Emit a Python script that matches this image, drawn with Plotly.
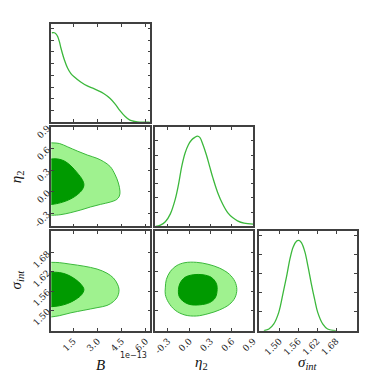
import plotly.graph_objects as go

# 1D marginals (normalised to peak 1)
b_grid = [0.15, 0.31, 0.42, 0.52, 0.62, 0.72, 0.93, 1.13, 1.34, 1.54, 1.95, 2.36,
          2.77, 3.07, 3.38, 3.79, 4.10, 4.40, 4.71, 5.02, 5.32, 5.63, 6.04, 6.25]
b_pdf = [1.0, 1.0, 0.985, 0.956, 0.90, 0.827, 0.698, 0.606, 0.544, 0.507, 0.449, 0.405,
         0.375, 0.35, 0.32, 0.265, 0.202, 0.129, 0.066, 0.022, 0.008, 0.0, 0.0, 0.0]

eta_grid = [-0.475, -0.406, -0.337, -0.268, -0.198, -0.152, -0.106, -0.06, -0.014, 0.032,
            0.078, 0.115, 0.148, 0.194, 0.24, 0.286, 0.332, 0.40, 0.471, 0.54, 0.609,
            0.678, 0.771, 0.9]
eta_pdf = [0.0, 0.014, 0.051, 0.136, 0.30, 0.463, 0.665, 0.81, 0.902, 0.957, 0.986, 1.0,
           0.986, 0.902, 0.793, 0.665, 0.537, 0.373, 0.245, 0.153, 0.098, 0.062, 0.036, 0.025]

sig_grid = [1.451, 1.467, 1.482, 1.498, 1.513, 1.524, 1.534, 1.544, 1.555, 1.562, 1.570,
            1.581, 1.591, 1.601, 1.612, 1.622, 1.638, 1.653, 1.679]
sig_pdf = [0.0, 0.019, 0.072, 0.20, 0.436, 0.618, 0.80, 0.927, 0.992, 1.0, 0.974, 0.873,
           0.709, 0.527, 0.346, 0.20, 0.072, 0.019, 0.0]

# 2D contours (95% outer, 68% inner)
b_eta_95_b = [0.11, 0.62, 1.13, 1.75, 2.36, 2.97, 3.38, 3.79, 4.10, 4.30, 4.40, 4.36, 4.20,
              3.79, 3.18, 2.56, 1.95, 1.34, 0.72, 0.21, 0.11]
b_eta_95_e = [0.681, 0.672, 0.626, 0.566, 0.512, 0.466, 0.42, 0.352, 0.237, 0.123, 0.009,
              -0.06, -0.105, -0.142, -0.174, -0.21, -0.252, -0.288, -0.316, -0.325, -0.325]
b_eta_68_b = [0.11, 0.52, 0.93, 1.34, 1.75, 2.05, 2.15, 2.05, 1.75, 1.34, 0.83, 0.31, 0.11]
b_eta_68_e = [0.457, 0.457, 0.429, 0.361, 0.26, 0.169, 0.10, 0.032, -0.037, -0.096,
              -0.142, -0.169, -0.174]

b_sig_95_b = [0.11, 0.62, 1.34, 2.15, 2.97, 3.59, 3.99, 4.24, 4.34, 4.26, 3.99, 3.59, 2.97,
              2.15, 1.34, 0.62, 0.11]
b_sig_95_s = [1.650, 1.649, 1.644, 1.638, 1.629, 1.616, 1.601, 1.582, 1.565, 1.544, 1.527,
              1.515, 1.508, 1.500, 1.492, 1.483, 1.479]
b_sig_68_b = [0.11, 0.62, 1.13, 1.64, 1.99, 2.15, 2.01, 1.64, 1.13, 0.62, 0.11]
b_sig_68_s = [1.619, 1.618, 1.611, 1.596, 1.580, 1.565, 1.549, 1.534, 1.521, 1.514, 1.511]

eta_sig_95_e = [-0.337, -0.323, -0.268, -0.175, -0.06, 0.102, 0.263, 0.425, 0.563, 0.642,
                0.669, 0.642, 0.563, 0.425, 0.263, 0.102, -0.06, -0.198, -0.291, -0.337]
eta_sig_95_s = [1.570, 1.596, 1.621, 1.640, 1.649, 1.650, 1.644, 1.632, 1.613, 1.590,
                1.565, 1.539, 1.518, 1.501, 1.489, 1.482, 1.485, 1.500, 1.524, 1.549]
eta_sig_68_e = [-0.152, -0.129, -0.06, 0.055, 0.194, 0.309, 0.378, 0.392, 0.365, 0.286,
                0.148, 0.009, -0.092, -0.143]
eta_sig_68_s = [1.565, 1.585, 1.603, 1.611, 1.611, 1.603, 1.585, 1.565, 1.539, 1.524,
                1.517, 1.518, 1.529, 1.544]

b_ticks = [1.5, 3.0, 4.5, 6.0]
eta_ticks = [-0.3, 0.0, 0.3, 0.6, 0.9]
sig_ticks = [1.50, 1.56, 1.62, 1.68]

B_RANGE = [0.11, 6.29]
ETA_RANGE = [-0.48, 0.9]
SIG_RANGE = [1.436, 1.747]

LINE = '#3cb83c'
LIGHT = '#9ff28f'
DARK = '#009a00'
FRAME = '#404040'

# the page body has an 8px margin, so the figure is 366px and starts at (8, 8)
OFF = 8.0
W = 366.0


def px(v):
    return (v - OFF) / W


def py(v):
    return 1 - (v - OFF) / W


cols = [(px(50), px(151)), (px(156), px(256)), (px(262), px(362))]
rows = [(py(120), py(20)), (py(226), py(125)), (py(332), py(231))]

fig = go.Figure()


def curve(x, y, ax):
    fig.add_trace(go.Scatter(x=x, y=y, mode='lines', line=dict(color=LINE, width=1.3, shape='spline'),
                             xaxis='x' + ax, yaxis='y' + ax, showlegend=False, hoverinfo='skip'))


def blob(x, y, ax, color, edge):
    fig.add_trace(go.Scatter(x=x, y=y, mode='lines', fill='toself', fillcolor=color,
                             line=dict(color=LINE if edge else color, width=1.0, shape='spline', smoothing=1.0),
                             xaxis='x' + ax, yaxis='y' + ax, showlegend=False, hoverinfo='skip'))


# panels: 1=(0,0) 2=(1,0) 3=(2,0) 4=(1,1) 5=(2,1) 6=(2,2)
curve(b_grid, b_pdf, '')
blob(b_eta_95_b, b_eta_95_e, '2', LIGHT, True)
blob(b_eta_68_b, b_eta_68_e, '2', DARK, False)
blob(b_sig_95_b, b_sig_95_s, '3', LIGHT, True)
blob(b_sig_68_b, b_sig_68_s, '3', DARK, False)
curve(eta_grid, eta_pdf, '4')
blob(eta_sig_95_e + eta_sig_95_e[:1], eta_sig_95_s + eta_sig_95_s[:1], '5', LIGHT, True)
blob(eta_sig_68_e + eta_sig_68_e[:1], eta_sig_68_s + eta_sig_68_s[:1], '5', DARK, False)
curve(sig_grid, sig_pdf, '6')

tickfont = dict(family='DejaVu Serif', size=9, color='#222')
base = dict(showgrid=False, zeroline=False, showline=True, linecolor=FRAME, linewidth=1.5,
            mirror='ticks', ticks='inside', ticklen=3, tickcolor=FRAME, tickfont=tickfont,
            tickangle=-45)


def fmt(rng, vals):
    return [('%.2f' if rng is SIG_RANGE else '%.1f') % v for v in vals]


def xax(dom, rng, vals, labels, anchor):
    return dict(base, domain=list(dom), range=rng, tickvals=vals, ticktext=fmt(rng, vals),
                showticklabels=labels, anchor=anchor)


def yax(dom, rng, anchor, vals=None, labels=False, dtick=None):
    d = dict(base, domain=list(dom), range=rng, showticklabels=labels, anchor=anchor)
    if vals is not None:
        d['tickvals'] = vals
        d['ticktext'] = fmt(rng, vals)
    else:
        d['tick0'] = 0
        d['dtick'] = dtick
    return d


fig.update_layout(
    width=366, height=366, margin=dict(l=0, r=0, t=0, b=0),
    paper_bgcolor='white', plot_bgcolor='white',
    xaxis=xax(cols[0], B_RANGE, b_ticks, False, 'y'),
    yaxis=yax(rows[0], [0, 1.1], 'x', dtick=0.131),
    xaxis2=xax(cols[0], B_RANGE, b_ticks, False, 'y2'),
    yaxis2=yax(rows[1], ETA_RANGE, 'x2', eta_ticks, True),
    xaxis3=xax(cols[0], B_RANGE, b_ticks, True, 'y3'),
    yaxis3=yax(rows[2], SIG_RANGE, 'x3', sig_ticks, True),
    xaxis4=xax(cols[1], ETA_RANGE, eta_ticks, False, 'y4'),
    yaxis4=yax(rows[1], [0, 1.1], 'x4', dtick=0.158),
    xaxis5=xax(cols[1], ETA_RANGE, eta_ticks, True, 'y5'),
    yaxis5=yax(rows[2], SIG_RANGE, 'x5', sig_ticks, False),
    xaxis6=xax(cols[2], SIG_RANGE, sig_ticks, True, 'y6'),
    yaxis6=yax(rows[2], [0, 1.1], 'x6', dtick=0.21),
)

titlefont = dict(family='Liberation Serif', size=15, color='#111')
notes = [
    (100, 367, '<i>B</i>', 0),
    (203, 365, '<i>η</i><sub>2</sub>', 0),
    (312, 365, '<i>σ</i><sub><i>int</i></sub>', 0),
    (15, 175, '<i>η</i><sub>2</sub>', -90),
    (15, 280, '<i>σ</i><sub><i>int</i></sub>', -90),
]
for x, y, t, a in notes:
    fig.add_annotation(x=px(x), y=py(y), xref='paper', yref='paper', text=t, textangle=a,
                       showarrow=False, font=titlefont, xanchor='center', yanchor='middle')
fig.add_annotation(x=px(150), y=py(357), xref='paper', yref='paper', text='1e−13',
                   showarrow=False, font=dict(family='DejaVu Sans', size=8, color='#222'),
                   xanchor='right', yanchor='middle')

fig.write_html('out.html')
